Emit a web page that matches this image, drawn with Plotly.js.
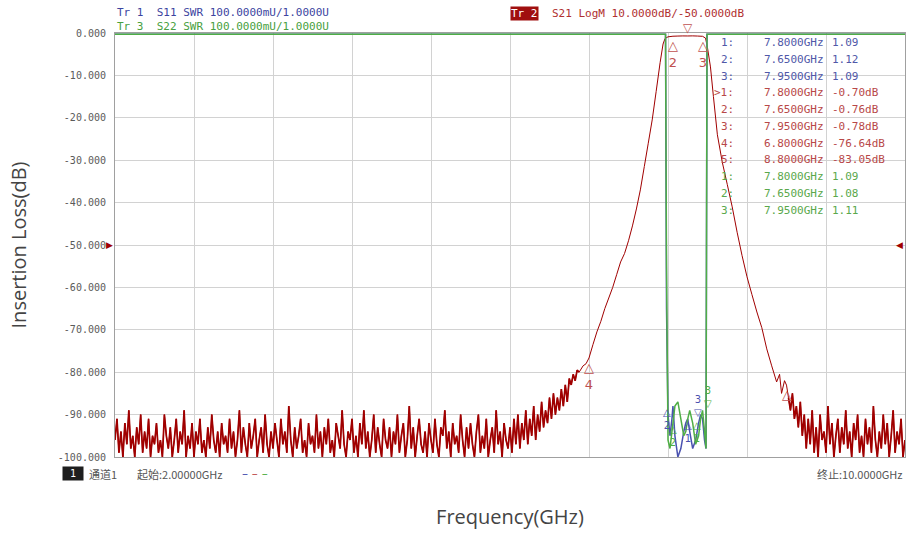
<!DOCTYPE html>
<html><head><meta charset="utf-8">
<script src="https://cdn.plot.ly/plotly-3.0.1.min.js"></script>
<style>html,body{margin:0;padding:0;background:#fff;}#chart{width:907px;height:534px;}</style>
</head><body><div id="chart"></div>
<script>
// ---------------- data ----------------
const sweepStep = 0.02;            // GHz between noise samples
const noiseLowStart = 2.00;        // S21 stop-band noise, low side
const s21NoiseLow = [
 -96,-91,-99,-94,-100,-92,-97,-89,-98,-95,-100,-93,-97,-90,-99,-94,-98,-91,-100,-95,
 -97,-92,-99,-96,-100,-90,-95,-98,-93,-100,-96,-91,-99,-94,-97,-89,-100,-95,-98,-92,
 -100,-94,-97,-91,-99,-96,-100,-93,-98,-90,-96,-99,-94,-100,-92,-97,-95,-99,-91,-98,
 -94,-100,-96,-89,-99,-93,-97,-100,-92,-98,-95,-91,-100,-96,-93,-99,-90,-97,-100,-94,
 -98,-92,-96,-100,-91,-97,-94,-99,-88,-96,-100,-93,-98,-95,-91,-99,-96,-100,-92,-97,
 -95,-99,-90,-98,-94,-100,-93,-97,-91,-99,-96,-100,-92,-95,-98,-89,-97,-100,-94,-96,
 -91,-99,-95,-100,-92,-97,-89,-98,-94,-100,-96,-90,-99,-93,-97,-100,-91,-96,-98,-93,
 -100,-94,-97,-90,-99,-95,-92,-100,-96,-88,-98,-93,-100,-95,-91,-97,-99,-94,-100,-92,
 -96,-99,-91,-97,-100,-93,-95,-89,-98,-94,-100,-92,-97,-95,-99,-90,-96,-100,-93,-98,
 -92,-97,-100,-94,-90,-99,-95,-98,-91,-100,-96,-93,-99,-89,-97,-94,-100,-92,-96,-98
];
const riseStart = 6.00;            // noisy start of lower skirt
const s21Rise = [
 -93,-99,-91,-97,-90,-98,-92,-96,-89,-97,-91,-95,-88,-96,-90,-94,-87,-93,
 -89,-92,-86,-91,-85,-90,-86,-89,-84,-88,-83,-87,-81.5,-83,-80.5,-82,-79.5,-80
];
const s21SkirtFreq = [6.74,6.77,6.80,6.84,6.88,6.92,6.96,7.00,7.04,7.08,7.12,7.16,7.20,7.24,7.28,7.32,7.36,7.40,7.44,7.48,7.52,7.55,7.57,
 7.60,7.65,7.70,7.75,7.80,7.85,7.90,7.95,7.98,
 8.00,8.03,8.06,8.10,8.15,8.20,8.25,8.30,8.35,8.40,8.45,8.50,8.55,8.60,8.65,8.70,8.73,8.75,8.78,8.80];
const s21SkirtVal = [-78.5,-78,-76.64,-73.5,-70.5,-68,-65,-62.5,-60,-57,-54,-52,-49,-45.5,-41.5,-37,-31.5,-26,-20.5,-13.8,-7,-2.6,-1.3,
 -0.9,-0.76,-0.72,-0.69,-0.70,-0.68,-0.72,-0.78,-1.2,
 -3.5,-8,-15,-24,-30.5,-35.7,-41,-47,-52.5,-57.5,-61.7,-65.8,-69.5,-74.5,-78.5,-82.3,-80.5,-85,-82,-83.05];
const noiseHighStart = 8.82;       // S21 stop-band noise, high side
const s21NoiseHigh = [
 -86,-89,-85,-91,-88,-93,-87,-95,-90,-98,-91,-97,-89,-99,-93,-100,-90,-96,-94,-99,
 -88,-97,-92,-100,-95,-91,-99,-93,-97,-89,-98,-94,-100,-92,-96,-90,-99,-95,-100,-91,
 -97,-93,-99,-88,-96,-100,-94,-98,-90,-97,-92,-100,-95,-89,-99,-94,-97,-91,-100,-96
];
// S11 / S22 SWR (scale 0.1 U/div, reference 1.0 U at the bottom line, off-scale drawn at top)
const swrFreq = [2.00,7.575,7.585,7.60,7.62,7.64,7.65,7.67,7.70,7.73,7.76,7.78,7.80,7.82,7.85,7.88,7.91,7.93,7.95,7.97,7.985,7.995,10.00];
const s11Swr  = [1.997,1.997,1.35,1.10,1.05,1.09,1.12,1.05,1.00,1.02,1.06,1.08,1.09,1.06,1.02,1.04,1.08,1.10,1.09,1.04,1.02,1.997,1.997];
const s22Swr  = [1.997,1.997,1.45,1.04,1.02,1.06,1.08,1.12,1.13,1.09,1.05,1.06,1.09,1.11,1.08,1.03,1.05,1.09,1.11,1.06,1.02,1.997,1.997];
// markers
const s21MkFreq = [7.80,7.65,7.95,6.80,8.80];
const s21MkVal  = [-0.70,-0.76,-0.78,-76.64,-83.05];
const s11MkFreq = [7.80,7.65,7.95];
const s11MkVal  = [1.09,1.12,1.09];
const s22MkFreq = [7.80,7.65,7.95];
const s22MkVal  = [1.09,1.08,1.11];
// axis ticks
const yTickVals = [0,-10,-20,-30,-40,-50,-60,-70,-80,-90,-100];
const yTickText = ['0.000','-10.000','-20.000','-30.000','-40.000','-50.000','-60.000','-70.000','-80.000','-90.000','-100.000'];

// ---------------- build ----------------
const RED = '#a00000', BLUE = '#4a52b0', GREEN = '#4fae45';
const TXT_BLUE = '#5058a8', TXT_RED = '#b84848', TXT_GREEN = '#5aa84c';
const lowF = s21NoiseLow.map((v,i)=>noiseLowStart+i*sweepStep);
const riseF = s21Rise.map((v,i)=>riseStart+i*sweepStep);
const highF = s21NoiseHigh.map((v,i)=>noiseHighStart+i*sweepStep);
const s21Freq = [].concat(lowF, riseF, s21SkirtFreq, highF);
const s21Val = [].concat(s21NoiseLow, s21Rise, s21SkirtVal, s21NoiseHigh);

const traces = [
  // stop-band noise drawn a bit heavier so that it reads as the dense band of the analyser trace
  {x:[].concat(lowF, riseF), y:[].concat(s21NoiseLow, s21Rise), type:'scatter', mode:'lines', line:{color:RED, width:1.7, simplify:false}, hoverinfo:'skip'},
  {x:highF, y:s21NoiseHigh, type:'scatter', mode:'lines', line:{color:RED, width:1.7, simplify:false}, hoverinfo:'skip'},
  {x:s21Freq, y:s21Val, type:'scatter', mode:'lines', line:{color:RED, width:1, simplify:false}, yaxis:'y', hoverinfo:'skip'},
  {x:swrFreq, y:s11Swr, type:'scatter', mode:'lines', line:{color:BLUE, width:1.5, simplify:false}, yaxis:'y2', hoverinfo:'skip'},
  {x:swrFreq, y:s22Swr, type:'scatter', mode:'lines', line:{color:GREEN, width:1.5, simplify:false}, yaxis:'y2', hoverinfo:'skip'}
];

const mono = 'DejaVu Sans Mono';
const ann = [];
// header
ann.push({xref:'paper', yref:'paper', x:0, y:1.0495, xanchor:'left', yanchor:'middle', showarrow:false,
  text:'Tr 1  S11 SWR 100.0000mU/1.0000U', font:{family:mono, size:11, color:'#3c44a0'}});
ann.push({xref:'paper', yref:'paper', x:0, y:1.0165, xanchor:'left', yanchor:'middle', showarrow:false,
  text:'Tr 3  S22 SWR 100.0000mU/1.0000U', font:{family:mono, size:11, color:'#48a040'}});
ann.push({xref:'paper', yref:'paper', x:0.5, y:1.047, xanchor:'left', yanchor:'middle', showarrow:false,
  text:'Tr 2', bgcolor:'#a00f0f', borderpad:0, font:{family:mono, size:11, color:'#ffffff'}});
ann.push({xref:'paper', yref:'paper', x:0.5506, y:1.047, xanchor:'left', yanchor:'middle', showarrow:false,
  text:'S21 LogM 10.0000dB/-50.0000dB', font:{family:mono, size:11, color:'#b03030'}});
// reference position arrows
ann.push({xref:'paper', yref:'y', x:0, y:-50, xanchor:'right', yanchor:'middle', showarrow:false,
  text:'▶', font:{family:'DejaVu Sans', size:9, color:RED}});
ann.push({xref:'paper', yref:'y', x:1, y:-50, xanchor:'right', yanchor:'middle', showarrow:false,
  text:'◀', font:{family:'DejaVu Sans', size:9, color:RED}});
// S21 markers
s21MkFreq.forEach((f,i)=>{
  const n = String(i+1);
  if (i===0) {
    ann.push({x:f, y:s21MkVal[i], xref:'x', yref:'y', showarrow:false, xanchor:'center', yanchor:'bottom', borderpad:0,
      text:'▽', font:{family:'DejaVu Sans', size:12, color:'#c05050'}});
  } else {
    ann.push({x:f, y:s21MkVal[i], xref:'x', yref:'y', showarrow:false, xanchor:'center', yanchor:'top',
      text: i===4 ? '△' : '△<br>'+n, font:{family:'DejaVu Sans', size:13, color:'#c05050'}});
  }
});
// SWR markers (small horizontal shifts keep the crowded labels apart)
function swrMarks(freqs, vals, color, shifts){
  freqs.forEach((f,i)=>{
    const n = String(i+1);
    if (i===2) {
      ann.push({x:f, y:vals[i], xref:'x', yref:'y2', showarrow:false, xanchor:'center', yanchor:'bottom', xshift:shifts[i],
        text:n+'<br>▽', borderpad:0, font:{family:'DejaVu Sans', size:10, color:color}});
    } else {
      ann.push({x:f, y:vals[i], xref:'x', yref:'y2', showarrow:false, xanchor:'center', yanchor:'top', xshift:shifts[i],
        text:'△<br>'+n, borderpad:0, font:{family:'DejaVu Sans', size:10, color:color}});
    }
  });
}
swrMarks(s11MkFreq, s11MkVal, BLUE, [0,-6,-5]);
swrMarks(s22MkFreq, s22MkVal, GREEN, [9,0,5]);

// marker table
const rows = [];
s11MkFreq.forEach((f,i)=>rows.push([(i+1)+':', f.toFixed(4)+'GHz', s11MkVal[i].toFixed(2), TXT_BLUE]));
s21MkFreq.forEach((f,i)=>rows.push([(i===0?'>':'')+(i+1)+':', f.toFixed(4)+'GHz', s21MkVal[i].toFixed(2)+'dB', TXT_RED]));
s22MkFreq.forEach((f,i)=>rows.push([(i+1)+':', f.toFixed(4)+'GHz', s22MkVal[i].toFixed(2), TXT_GREEN]));
const rowTop = 42.7, rowGap = 16.73, plotTop = 33, plotH = 424;
rows.forEach((r,k)=>{
  const py = rowTop + k*rowGap;
  const yp = 1 - (py - plotTop)/plotH;
  const fnt = {family:mono, size:11, color:r[3]};
  ann.push({xref:'paper', yref:'paper', x:0.786, y:yp, xanchor:'right', yanchor:'middle', showarrow:false, text:r[0], font:fnt});
  ann.push({xref:'paper', yref:'paper', x:0.819, y:yp, xanchor:'left', yanchor:'middle', showarrow:false, text:r[1], font:fnt});
  ann.push({xref:'paper', yref:'paper', x:0.9051, y:yp, xanchor:'left', yanchor:'middle', showarrow:false, text:r[2], font:fnt});
});
// bottom status line
const cjk = 'Noto Sans CJK SC';
ann.push({xref:'paper', yref:'paper', x:-0.0671, y:-0.040, xanchor:'left', yanchor:'middle', showarrow:false,
  text:' 1 ', bgcolor:'#1e1e1e', borderpad:1, font:{family:mono, size:10, color:'#ffffff'}});
ann.push({xref:'paper', yref:'paper', x:-0.0354, y:-0.040, xanchor:'left', yanchor:'middle', showarrow:false,
  text:'通道1', font:{family:cjk, size:11, color:'#555'}});
ann.push({xref:'paper', yref:'paper', x:0.0253, y:-0.040, xanchor:'left', yanchor:'middle', showarrow:false,
  text:'起始:2.00000GHz', font:{family:cjk, size:11, color:'#555'}});
ann.push({xref:'paper', yref:'paper', x:0.158, y:-0.040, xanchor:'left', yanchor:'middle', showarrow:false,
  text:'<span style="color:'+BLUE+'">–</span> <span style="color:#c05050">–</span> <span style="color:'+GREEN+'">–</span>',
  font:{family:'DejaVu Sans', size:12, color:'#555'}});
ann.push({xref:'paper', yref:'paper', x:1, y:-0.040, xanchor:'right', yanchor:'middle', showarrow:false,
  text:'终止:10.0000GHz', font:{family:cjk, size:11, color:'#555'}});

const layout = {
  width:907, height:534,
  margin:{l:115, r:2, t:33, b:77, pad:0},
  paper_bgcolor:'#ffffff', plot_bgcolor:'#ffffff',
  showlegend:false,
  xaxis:{range:[2,10], tick0:2, dtick:0.8, showgrid:true, gridcolor:'#d2d2d2', gridwidth:1,
    showticklabels:false, ticks:'', zeroline:false, showline:true, linecolor:'#a0a0a0', linewidth:1, mirror:true,
    title:{text:'Frequency(GHz)', font:{family:'Open Sans', size:20, color:'#444'}, standoff:52}},
  yaxis:{range:[-100,0], tickvals:yTickVals, ticktext:yTickText, showgrid:true, gridcolor:'#d2d2d2', gridwidth:1,
    zeroline:false, showline:true, linecolor:'#a0a0a0', linewidth:1, mirror:true, ticks:'',
    ticklabelstandoff:6,
    tickfont:{family:mono, size:10, color:'#5a5a5a'},
    title:{text:'Insertion Loss(dB)', font:{family:'Open Sans', size:20, color:'#444'}, standoff:25}},
  yaxis2:{range:[1,2], overlaying:'y', side:'right', visible:false, showgrid:false, zeroline:false},
  annotations:ann
};
Plotly.newPlot('chart', traces, layout, {displayModeBar:false, staticPlot:true});
</script></body></html>
